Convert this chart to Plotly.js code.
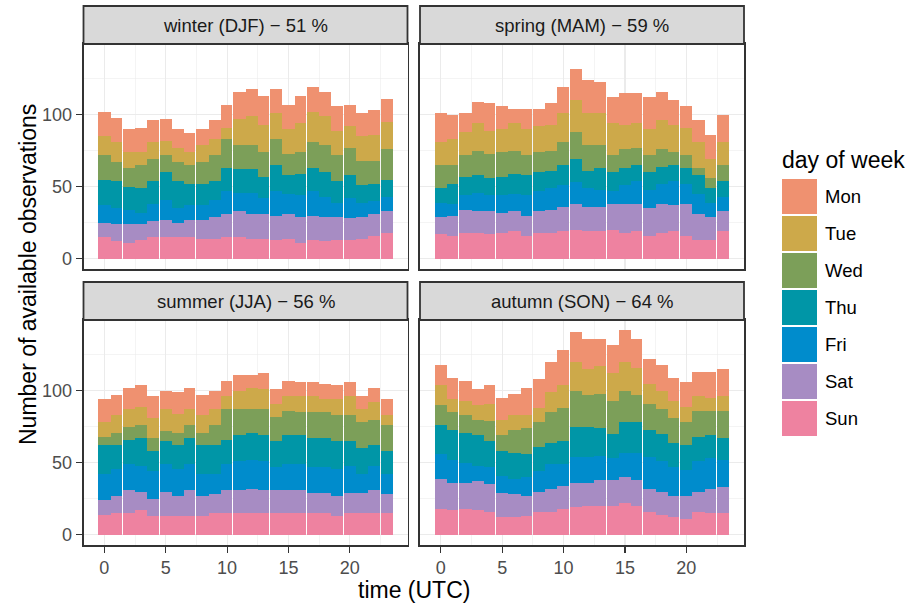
<!DOCTYPE html>
<html>
<head>
<meta charset="utf-8">
<script src="https://cdn.plot.ly/plotly-3.0.1.min.js"></script>
<style>html,body{margin:0;padding:0;background:#fff;}#chart{width:908px;height:604px;}</style>
</head>
<body>
<div id="chart"></div>
<script>
// ---- data ----
const hours = [0,1,2,3,4,5,6,7,8,9,10,11,12,13,14,15,16,17,18,19,20,21,22,23];
const days = ["Mon","Tue","Wed","Thu","Fri","Sat","Sun"];
const dayColors = ["#EF9170","#CDA94A","#7C9F59","#0096A7","#008CCC","#A78CC3","#EE82A0"];
const seasonLabels = ["winter (DJF) \u2212 51 %","spring (MAM) \u2212 59 %","summer (JJA) \u2212 56 %","autumn (SON) \u2212 64 %"];

// counts per hour (0..23) for each day of week
const winter = {
  Sun:[15,12,11,13,15,15,15,15,14,14,15,15,14,14,13,14,11,13,12,13,13,14,16,18],
  Sat:[10,12,13,11,11,12,10,12,13,15,16,18,17,17,17,17,18,17,17,16,15,15,15,15],
  Fri:[12,11,10,8,12,14,10,10,10,12,16,13,15,11,17,14,15,17,14,10,14,10,9,10],
  Thu:[18,19,16,17,16,19,19,15,15,13,16,16,16,15,18,13,15,16,17,15,16,12,12,12],
  Wed:[17,13,13,16,15,12,13,13,15,18,20,17,17,17,18,15,15,18,19,18,19,17,16,21],
  Tue:[13,14,11,9,12,10,10,9,12,11,8,18,20,19,18,17,20,21,20,17,15,17,18,19],
  Mon:[17,17,16,17,15,15,13,13,11,13,16,19,19,20,17,17,19,17,17,17,15,16,17,16]
};
const spring = {
  Sun:[17,16,18,18,17,18,19,16,18,18,19,20,19,19,20,18,19,16,18,19,16,13,13,19],
  Sat:[12,14,16,15,16,14,14,14,15,16,17,18,17,17,18,20,19,19,20,18,22,18,16,14],
  Fri:[10,8,10,13,11,12,12,14,14,15,15,15,13,12,9,13,16,13,14,17,14,14,10,10],
  Thu:[10,14,13,12,12,13,14,14,13,12,14,16,12,15,13,12,11,12,12,11,11,13,10,11],
  Wed:[16,13,15,17,17,17,16,14,14,14,16,19,18,16,12,13,12,12,12,9,9,5,7,11],
  Tue:[16,18,16,19,16,16,19,18,18,18,20,22,22,22,22,17,17,18,20,19,19,18,13,16],
  Mon:[20,17,13,15,19,16,10,14,12,15,18,22,23,22,18,22,21,22,20,17,15,15,17,19]
};
const summer = {
  Sun:[14,15,15,17,13,13,13,13,13,15,15,15,15,15,15,15,15,15,15,13,15,15,15,15],
  Sat:[10,12,16,13,12,17,14,18,14,13,16,16,17,16,16,16,16,14,14,14,14,14,16,13],
  Fri:[18,19,18,18,19,19,19,18,15,14,18,20,20,20,16,18,18,18,18,19,19,13,17,14],
  Thu:[20,16,17,19,14,16,16,18,20,20,17,18,19,18,18,20,20,20,20,19,17,18,14,16],
  Wed:[6,9,9,9,9,7,9,9,9,14,21,18,16,18,17,17,16,18,18,18,18,18,18,18],
  Tue:[10,12,12,13,14,15,13,11,12,11,9,13,15,14,9,10,11,11,9,11,13,9,12,7],
  Mon:[16,14,15,15,15,13,15,15,14,13,11,11,9,11,10,11,10,10,11,10,10,9,10,11]
};
const autumn = {
  Sun:[18,17,18,17,16,12,12,13,16,16,18,19,20,20,20,22,20,16,14,12,11,16,15,15],
  Sat:[21,19,18,20,19,17,16,14,14,16,16,17,16,18,18,18,18,16,16,15,16,14,17,18],
  Fri:[17,16,14,11,12,12,11,13,14,17,15,18,18,17,15,17,19,22,21,20,18,21,21,19],
  Thu:[20,21,21,21,18,17,18,16,17,15,16,21,21,19,17,21,21,19,19,17,17,17,16,15],
  Wed:[14,12,12,11,14,11,16,18,17,21,23,25,22,24,23,22,19,18,17,17,16,18,17,19],
  Tue:[14,9,10,10,12,11,10,9,10,14,16,20,18,19,19,20,19,14,13,12,11,10,9,10],
  Mon:[14,15,14,11,13,15,15,19,20,21,24,21,21,19,20,22,20,17,18,16,17,17,18,19]
};
const seasons = [winter, spring, summer, autumn];

// ---- geometry (pixels in a 908x604 figure) ----
const W = 908, H = 604;
const px = v => v / W, py = v => 1 - v / H;
const colX = [[83.5, 407.5], [420, 744]];
const rowY = [[44, 269], [320, 545]];      // plot area (top, bottom)
const stripY = [[6, 44], [282, 320]];

const textCol = "#4D4D4D", lineCol = "#333333", gridCol = "#EBEBEB";
const FONT = "Liberation Sans, Arial, Helvetica, sans-serif";

// stacking order: Sun at bottom
const stackOrder = ["Sun","Sat","Fri","Thu","Wed","Tue","Mon"];
// small rendering gaps seen in the reference every 3 hours
const barWidths = hours.map(h => (h % 3 === 1 ? 0.92 : 1));
const barOffsets = hours.map(() => -0.5);

const traces = [];
seasons.forEach((s, k) => {
  const sfx = k === 0 ? "" : String(k + 1);
  stackOrder.forEach(d => {
    traces.push({
      type: "bar", x: hours, y: s[d], name: d,
      xaxis: "x" + sfx, yaxis: "y" + sfx,
      width: barWidths, offset: barOffsets,
      marker: {color: dayColors[days.indexOf(d)], line: {width: 0}},
      showlegend: false, hoverinfo: "x+y+name"
    });
  });
});

const layout = {
  width: W, height: H,
  margin: {l: 0, r: 0, t: 0, b: 0},
  paper_bgcolor: "#fff", plot_bgcolor: "#fff",
  barmode: "stack", bargap: 0,
  font: {family: FONT, color: textCol, size: 18},
  shapes: [], annotations: []
};

for (let k = 0; k < 4; k++) {
  const r = Math.floor(k / 2), c = k % 2;
  const sfx = k === 0 ? "" : String(k + 1);
  const xa = {
    domain: [px(colX[c][0]), px(colX[c][1])],
    range: [-1.7, 24.7], anchor: "y" + sfx,
    tickvals: [0, 5, 10, 15, 20],
    showticklabels: r === 1, ticks: r === 1 ? "outside" : "",
    ticklen: 6, tickwidth: 1.1, tickcolor: lineCol,
    tickfont: {family: FONT, size: 18, color: textCol},
    showgrid: true, gridcolor: gridCol, gridwidth: 1.1,
    minor: {dtick: 2.5, showgrid: true, gridcolor: gridCol, gridwidth: 0.55},
    zeroline: false, showline: true, mirror: true, linecolor: lineCol, linewidth: 1.8,
    fixedrange: true
  };
  const ya = {
    domain: [py(rowY[r][1]), py(rowY[r][0])],
    range: [-7.1, 149.1], anchor: "x" + sfx,
    tickvals: [0, 50, 100],
    showticklabels: c === 0, ticks: c === 0 ? "outside" : "",
    ticklen: 6, tickwidth: 1.1, tickcolor: lineCol,
    tickfont: {family: FONT, size: 18, color: textCol},
    showgrid: true, gridcolor: gridCol, gridwidth: 1.1,
    minor: {dtick: 25, showgrid: true, gridcolor: gridCol, gridwidth: 0.55},
    zeroline: false, showline: true, mirror: true, linecolor: lineCol, linewidth: 1.8,
    fixedrange: true
  };
  layout["xaxis" + sfx] = xa;
  layout["yaxis" + sfx] = ya;

  // strip
  layout.shapes.push({
    type: "rect", xref: "paper", yref: "paper",
    x0: px(colX[c][0]), x1: px(colX[c][1]),
    y0: py(stripY[r][1]), y1: py(stripY[r][0]),
    fillcolor: "#D9D9D9", line: {color: lineCol, width: 1.8}, layer: "above"
  });
  layout.annotations.push({
    xref: "paper", yref: "paper",
    x: px((colX[c][0] + colX[c][1]) / 2), y: py((stripY[r][0] + stripY[r][1]) / 2),
    text: seasonLabels[k], showarrow: false,
    xanchor: "center", yanchor: "middle",
    font: {family: FONT, size: 18.5, color: "#1A1A1A"}
  });
}

// axis titles
layout.annotations.push({
  xref: "paper", yref: "paper", x: px(414), y: py(590),
  text: "time (UTC)", showarrow: false, xanchor: "center", yanchor: "middle",
  font: {family: FONT, size: 23, color: "#000"}
});
layout.annotations.push({
  xref: "paper", yref: "paper", x: px(28), y: py(275),
  text: "Number of available observations", showarrow: false, textangle: -90,
  xanchor: "center", yanchor: "middle",
  font: {family: FONT, size: 23, color: "#000"}
});

// custom legend (keys as in the reference)
layout.annotations.push({
  xref: "paper", yref: "paper", x: px(780), y: py(160),
  text: "day of week", showarrow: false, xanchor: "left", yanchor: "middle",
  font: {family: FONT, size: 23, color: "#000"}
});
days.forEach((d, i) => {
  const top = 179 + i * 37;
  layout.shapes.push({
    type: "rect", xref: "paper", yref: "paper",
    x0: px(782), x1: px(817), y0: py(top + 35), y1: py(top),
    fillcolor: dayColors[i], line: {width: 0}
  });
  layout.annotations.push({
    xref: "paper", yref: "paper", x: px(823), y: py(top + 17.5),
    text: d, showarrow: false, xanchor: "left", yanchor: "middle",
    font: {family: FONT, size: 18.5, color: "#000"}
  });
});

Plotly.newPlot("chart", traces, layout, {displayModeBar: false, staticPlot: true});
</script>
</body>
</html>
